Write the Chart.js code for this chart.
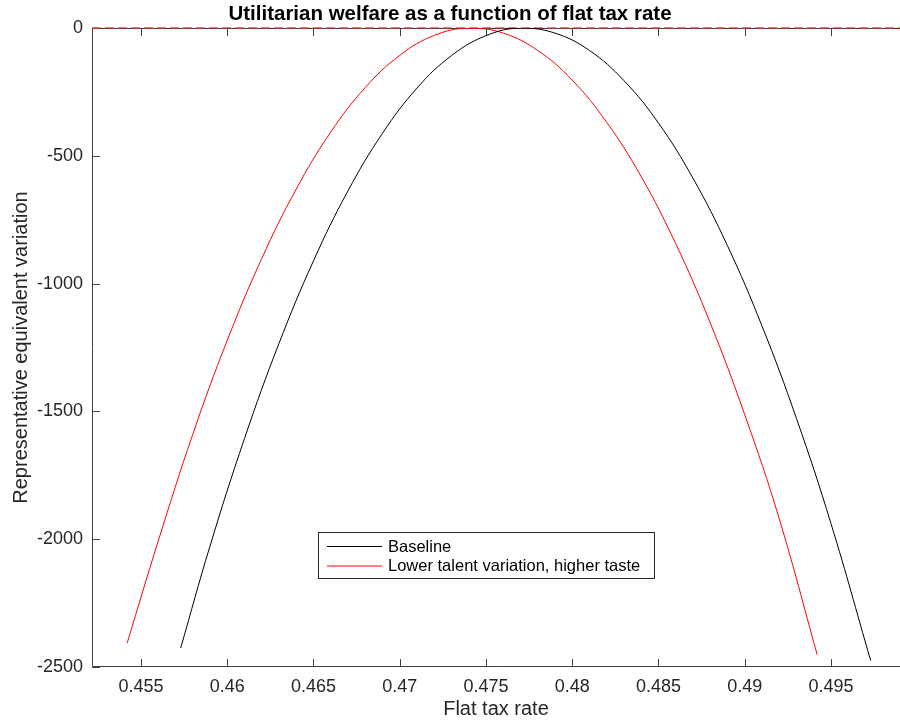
<!DOCTYPE html>
<html>
<head>
<meta charset="utf-8">
<script src="https://cdn.jsdelivr.net/npm/chart.js@4.4.0/dist/chart.umd.min.js"></script>
<style>
html, body { margin: 0; padding: 0; background: #fff; }
#wrap { width: 900px; height: 723px; }
</style>
</head>
<body>
<div id="wrap"><canvas id="welfareChart" width="900" height="723"></canvas></div>
<script>
// values
const taxBase = [0.4573, 0.459, 0.461, 0.463, 0.465, 0.467, 0.469, 0.471, 0.473, 0.475, 0.477,
                 0.479, 0.481, 0.483, 0.485, 0.487, 0.489, 0.491, 0.493, 0.495, 0.4973];
const welfareBase = [-2426, -2027, -1606, -1234, -911, -637, -412, -235, -108, -30, 0,
                     -20, -88, -206, -372, -588, -852, -1166, -1528, -1939, -2475];

const taxAlt = [0.4542, 0.456, 0.458, 0.460, 0.462, 0.464, 0.466, 0.468, 0.470, 0.472, 0.474,
                0.476, 0.478, 0.480, 0.482, 0.484, 0.486, 0.488, 0.490, 0.492, 0.4942];
const welfareAlt = [-2406, -2007, -1590, -1222, -902, -630, -407, -233, -107, -29, 0,
                    -20, -88, -204, -369, -582, -844, -1154, -1513, -1920, -2452];

const zeroLineX = [0.45216, 0.499];
const zeroLineY = [0, 0];

const xTicks = [0.455, 0.46, 0.465, 0.47, 0.475, 0.48, 0.485, 0.49, 0.495];
const yTicks = [-2500, -2000, -1500, -1000, -500, 0];

const seriesNames = ['Baseline', 'Lower talent variation, higher taste'];

const toPoints = (xs, ys) => xs.map((x, i) => ({x: x, y: ys[i]}));

// MATLAB-ish box with inward ticks
const axesBox = {
    id: 'axesBox',
    beforeDatasetsDraw(chart) {
        const ctx = chart.ctx;
        const a = chart.chartArea;
        const xs = chart.scales.x, ys = chart.scales.y;
        ctx.save();
        ctx.strokeStyle = '#404040';
        ctx.lineWidth = 1;
        ctx.beginPath();
        ctx.moveTo(a.left + 0.5, a.top + 0.5);
        ctx.lineTo(a.left + 0.5, a.bottom - 0.5);
        ctx.lineTo(a.right, a.bottom - 0.5);
        ctx.moveTo(a.left, a.top + 0.5);
        ctx.lineTo(a.right, a.top + 0.5);
        xTicks.forEach(t => {
            const px = Math.round(xs.getPixelForValue(t)) + 0.5;
            ctx.moveTo(px, a.bottom);
            ctx.lineTo(px, a.bottom - 8);
            ctx.moveTo(px, a.top);
            ctx.lineTo(px, a.top + 8);
        });
        yTicks.forEach(t => {
            const py = Math.round(ys.getPixelForValue(t)) + 0.5;
            ctx.moveTo(a.left, py);
            ctx.lineTo(a.left + 8, py);
        });
        ctx.stroke();
        ctx.restore();
    },
    afterDraw(chart) {
        // legend box
        const ctx = chart.ctx;
        const a = chart.chartArea;
        const bx = a.left + 226, by = a.top + 504, bw = 336, bh = 46;
        ctx.save();
        ctx.fillStyle = '#fff';
        ctx.fillRect(bx, by, bw, bh);
        ctx.strokeStyle = '#262626';
        ctx.lineWidth = 1;
        ctx.strokeRect(bx + 0.5, by + 0.5, bw, bh);
        ctx.font = '16.5px "Liberation Sans", Arial, sans-serif';
        ctx.textBaseline = 'middle';
        ctx.fillStyle = '#000';
        const ds = chart.data.datasets.filter(d => seriesNames.includes(d.label));
        ds.forEach((d, i) => {
            const cy = by + 14 + i * 19.5;
            ctx.strokeStyle = d.borderColor;
            ctx.beginPath();
            ctx.moveTo(bx + 9, cy + 0.5);
            ctx.lineTo(bx + 64, cy + 0.5);
            ctx.stroke();
            ctx.fillText(d.label, bx + 70, cy + 1);
        });
        ctx.restore();
    }
};

const ctx = document.getElementById('welfareChart').getContext('2d');
new Chart(ctx, {
    type: 'scatter',
    data: {
        datasets: [
            {
                label: seriesNames[0],
                data: toPoints(taxBase, welfareBase),
                showLine: true,
                borderColor: '#000000',
                borderWidth: 1,
                pointRadius: 0,
                tension: 0.4
            },
            {
                label: seriesNames[1],
                data: toPoints(taxAlt, welfareAlt),
                showLine: true,
                borderColor: '#ff0000',
                borderWidth: 1,
                pointRadius: 0,
                tension: 0.4
            },
            {
                label: 'zero',
                data: toPoints(zeroLineX, zeroLineY),
                showLine: true,
                borderColor: 'rgba(225,45,45,0.85)',
                borderWidth: 1.5,
                borderDash: [9, 4],
                pointRadius: 0,
                clip: false
            }
        ]
    },
    options: {
        responsive: false,
        devicePixelRatio: 1,
        animation: false,
        layout: {padding: {left: 0, right: 0, top: 0, bottom: 0}},
        plugins: {
            legend: {display: false},
            tooltip: {enabled: false},
            title: {
                display: true,
                text: 'Utilitarian welfare as a function of flat tax rate',
                color: '#000',
                font: {family: '"Liberation Sans", Arial, sans-serif', size: 20.5, weight: 'bold', lineHeight: 1.2},
                padding: {top: 1.6, bottom: 1.8}
            }
        },
        scales: {
            x: {
                type: 'linear',
                min: zeroLineX[0],
                max: zeroLineX[1],
                grid: {display: false, drawTicks: false},
                border: {display: false},
                afterBuildTicks: s => { s.ticks = xTicks.map(v => ({value: v})); },
                afterFit: s => { s.height = 56; },
                ticks: {
                    color: '#262626',
                    padding: 9,
                    maxRotation: 0,
                    font: {family: '"Liberation Sans", Arial, sans-serif', size: 18},
                    callback: v => String(+v.toFixed(3))
                },
                title: {
                    display: true,
                    text: 'Flat tax rate',
                    color: '#262626',
                    font: {family: '"Liberation Sans", Arial, sans-serif', size: 20, lineHeight: 1.2},
                    padding: {top: 0, bottom: 1.8}
                }
            },
            y: {
                min: -2500,
                max: 0,
                grid: {display: false, drawTicks: false},
                border: {display: false},
                afterBuildTicks: s => { s.ticks = yTicks.map(v => ({value: v})); },
                afterFit: s => { s.width = 92; },
                ticks: {
                    color: '#262626',
                    padding: 9,
                    font: {family: '"Liberation Sans", Arial, sans-serif', size: 18},
                    callback: v => String(v)
                },
                title: {
                    display: true,
                    text: 'Representative equivalent variation',
                    color: '#262626',
                    font: {family: '"Liberation Sans", Arial, sans-serif', size: 20, lineHeight: 1.2},
                    padding: {top: 9.8, bottom: 0}
                }
            }
        }
    },
    plugins: [axesBox]
});
</script>
</body>
</html>
